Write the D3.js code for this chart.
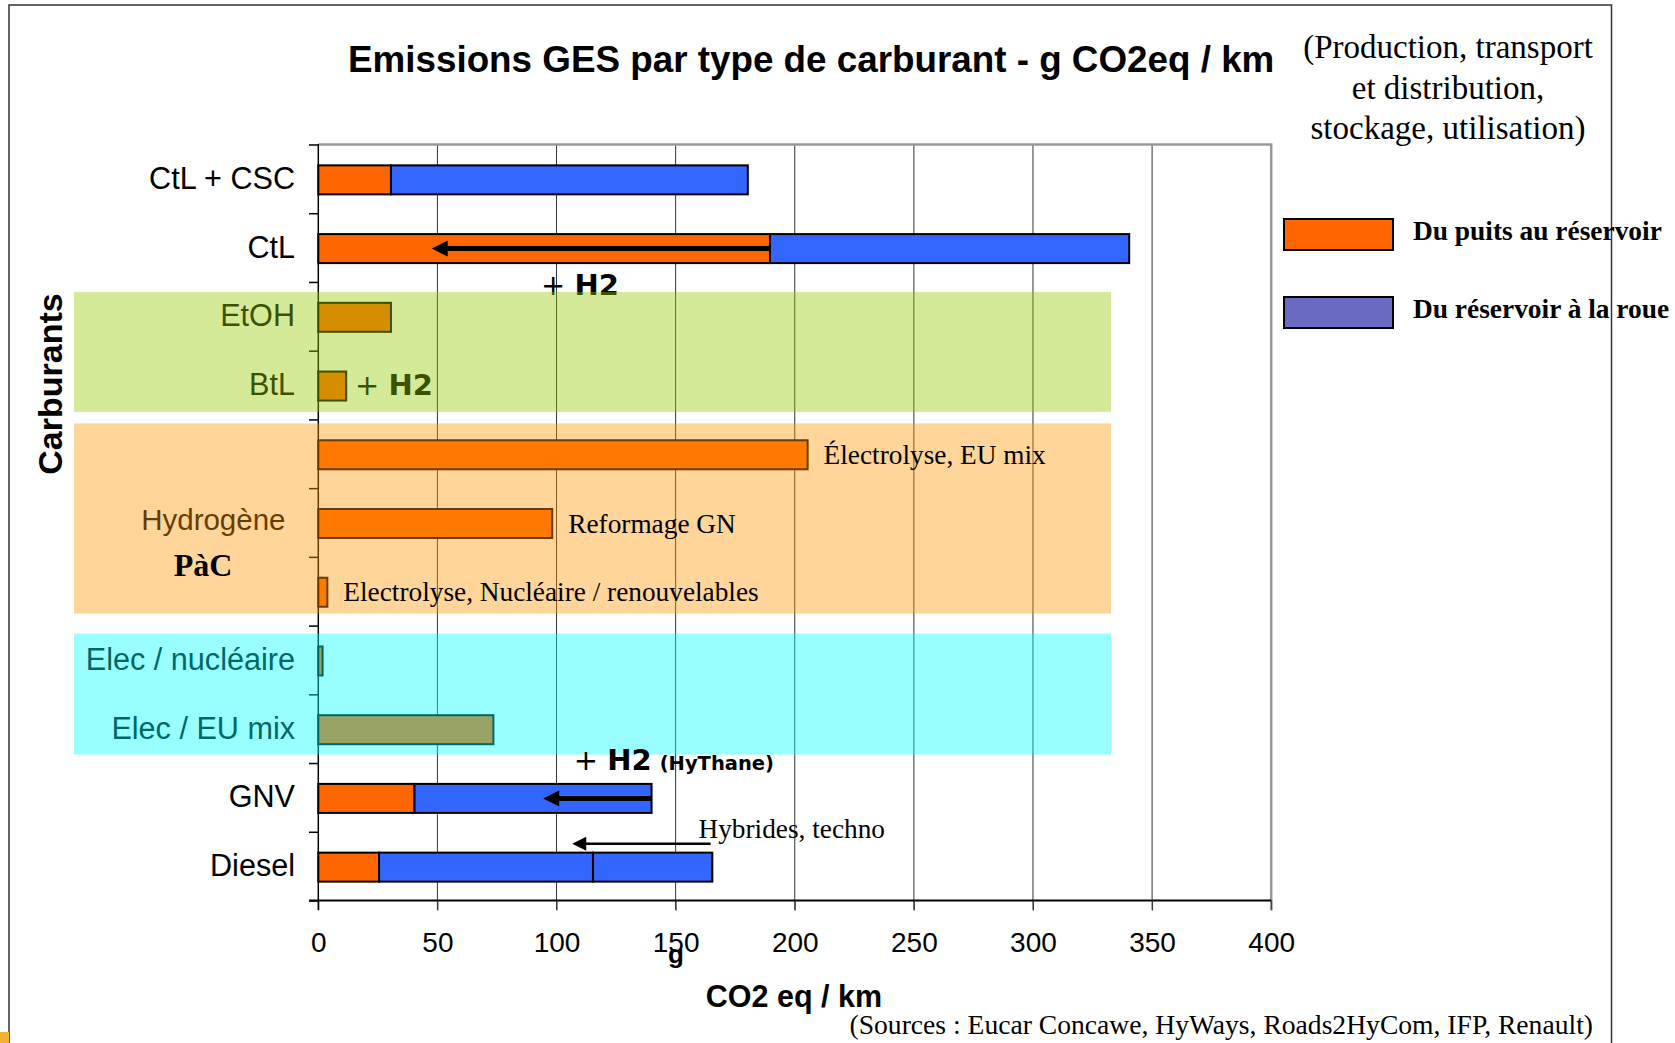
<!DOCTYPE html>
<meta charset="utf-8">
<style>
body { margin: 0; background: #fff; }
svg text { font-family: 'Liberation Sans', Arial, sans-serif; }
.serif { font-family: 'Liberation Serif', 'Times New Roman', serif !important; }
.heavy { font-family: 'DejaVu Sans', sans-serif !important; }
</style>
<body>
<div id="chart"></div>
<script src="https://d3js.org/d3.v7.min.js"></script>
<script>
// rows, top to bottom
var categories = ["CtL + CSC", "CtL", "EtOH", "BtL", "H2 Électrolyse EU mix", "H2 Reformage GN",
  "H2 Electrolyse nucléaire", "Elec / nucléaire", "Elec / EU mix", "GNV", "Diesel"];
var rowLabels = ["CtL + CSC", "CtL", "EtOH", "BtL", "", "", "", "Elec / nucléaire", "Elec / EU mix", "GNV", "Diesel"];

// g CO2eq / km
var puitsReservoir = [30.5, 189.6, 30.5, 11.7, 205.4, 98.2, 3.8, 1.8, 73.5, 40.4, 25.5];
var reservoirRoue = [149.8, 150.8, 0, 0, 0, 0, 0, 0, 0, 99.5, 89.8];
var reservoirRoueHybride = [0, 0, 0, 0, 0, 0, 0, 0, 0, 0, 50.1];

var xTicks = [0, 50, 100, 150, 200, 250, 300, 350, 400];

var barNotes = ["", "", "", "", "Électrolyse, EU mix", "Reformage GN",
  "Electrolyse, Nucléaire / renouvelables", "", "", "", ""];

// arrows: row, from value, to value
var arrowRows = ["CtL", "GNV", "Diesel"];
var arrowFrom = [189.6, 139.9, 164.7];
var arrowTo = [47.6, 94.4, 106.6];

var legendLabels = ["Du puits au réservoir", "Du réservoir à la roue"];
var subtitleLines = ["(Production, transport", "et distribution,", "stockage, utilisation)"];

var W = 1675, H = 1043;
var ORANGE = "#ff6600", BLUE = "#3366ff";

var svg = d3.select("#chart").append("svg")
  .attr("width", W).attr("height", H);

var x = d3.scaleLinear().domain([0, 400]).range([318.3, 1271.2]);
var y = d3.scaleBand().domain(categories).range([145, 901]);
var cy = function(c) { return y(c) + y.bandwidth() / 2; };
var barH = 29;

// outer frame
svg.append("path")
  .attr("d", "M9,1050 V5 H1611.5 V1050")
  .attr("fill", "none").attr("stroke", "#333").attr("stroke-width", 1.5);
svg.append("rect").attr("x", 0).attr("y", 1032).attr("width", 9).attr("height", 11).attr("fill", "#f2b134");

// grid
svg.append("g").selectAll("line")
  .data(xTicks.slice(1, -1))
  .enter().append("line")
  .attr("x1", d => x(d)).attr("x2", d => x(d))
  .attr("y1", 145).attr("y2", 910)
  .attr("stroke", "#333").attr("stroke-width", 1);

// top + right border of plot
svg.append("path")
  .attr("d", "M" + x(0) + ",144.5 H" + x(400) + " V910")
  .attr("fill", "none").attr("stroke", "#999").attr("stroke-width", 2.5);

// x axis
var xAxis = svg.append("g")
  .attr("transform", "translate(0,900.5)")
  .call(d3.axisBottom(x).tickValues(xTicks).tickSize(10).tickPadding(22));
xAxis.select(".domain").attr("d", "M309,0 H" + x(400)).attr("stroke", "#000").attr("stroke-width", 2);
xAxis.selectAll(".tick line").attr("stroke", "#333");
xAxis.selectAll("text").style("font-size", "28px").attr("fill", "#000");

// y axis line + ticks at row boundaries
svg.append("line")
  .attr("x1", x(0)).attr("x2", x(0)).attr("y1", 144).attr("y2", 910)
  .attr("stroke", "#000").attr("stroke-width", 1.5);
var bounds = categories.map(c => y(c)).concat([y.range()[1]]);
svg.append("g").selectAll("line")
  .data(bounds).enter().append("line")
  .attr("x1", 309).attr("x2", x(0))
  .attr("y1", d => d).attr("y2", d => d)
  .attr("stroke", "#000").attr("stroke-width", 1.5);

// bars
var bars = svg.append("g").attr("stroke", "#000").attr("stroke-width", 2);
categories.forEach(function(c, i) {
  var top = cy(c) - barH / 2 + 0.5;
  var segs = [
    [0, puitsReservoir[i], ORANGE],
    [puitsReservoir[i], puitsReservoir[i] + reservoirRoue[i], BLUE],
    [puitsReservoir[i] + reservoirRoue[i], puitsReservoir[i] + reservoirRoue[i] + reservoirRoueHybride[i], BLUE]
  ];
  segs.forEach(function(s) {
    if (s[1] - s[0] <= 0) return;
    bars.append("rect")
      .attr("x", x(s[0])).attr("y", top)
      .attr("width", x(s[1]) - x(s[0])).attr("height", barH)
      .attr("fill", s[2]);
  });
});

// row labels
svg.append("g").selectAll("text")
  .data(categories).enter().append("text")
  .attr("x", 295).attr("y", d => cy(d) + 9.5)
  .attr("text-anchor", "end")
  .style("font-size", "30.6px")
  .text((d, i) => rowLabels[i]);

svg.append("text")
  .attr("x", 285.5).attr("y", cy(categories[5]) + 7)
  .attr("text-anchor", "end").style("font-size", "29.5px")
  .text("Hydrogène");

// "+ H2" notes under the bands
function plusH2(px, py, extra) {
  var t = svg.append("text").attr("class", "heavy")
    .attr("x", px).attr("y", py).style("font-size", "29px");
  t.append("tspan").text("+ ");
  t.append("tspan").attr("font-weight", "bold").text("H2");
  if (extra) t.append("tspan").attr("font-weight", "bold").style("font-size", "19.5px").attr("dx", 8).text(extra);
}
plusH2(x(93.5), cy("CtL") + 47);
plusH2(x(15.4), cy("BtL") + 9.5);

// translucent bands over the rows
var bandRows = [["EtOH", "BtL", 9.5, -8, "#96cb00"],
  ["H2 Électrolyse EU mix", "H2 Electrolyse nucléaire", 3.5, -12.5, "#ff9600"],
  ["Elec / nucléaire", "Elec / EU mix", 7.5, -9, "#00ffff"]];
svg.append("g").selectAll("rect")
  .data(bandRows).enter().append("rect")
  .attr("x", 74).attr("width", 1111 - 74)
  .attr("y", d => y(d[0]) + d[2])
  .attr("height", d => y(d[1]) + y.bandwidth() + d[3] - y(d[0]) - d[2])
  .attr("fill", d => d[4]).attr("fill-opacity", 0.4);

// notes at bar ends
svg.append("g").selectAll("text")
  .data(categories).enter().append("text")
  .attr("class", "serif")
  .attr("x", (d, i) => x(puitsReservoir[i]) + 16)
  .attr("y", d => cy(d) + 9.5)
  .style("font-size", "27.3px")
  .text((d, i) => barNotes[i]);

svg.append("text").attr("class", "serif")
  .attr("x", 203).attr("y", 576).attr("text-anchor", "middle")
  .attr("font-weight", "bold").style("font-size", "32px").text("PàC");

plusH2(x(107.2), cy("GNV") - 28, "(HyThane)");

svg.append("text").attr("class", "serif")
  .attr("x", x(159.6)).attr("y", cy("Diesel") - 28.5)
  .style("font-size", "27.3px").text("Hybrides, techno");

// arrows
arrowRows.forEach(function(r, i) {
  var thin = r === "Diesel";
  var ay = thin ? cy(r) - 23 : cy(r) + 0.5;
  var x1 = x(arrowFrom[i]), x2 = x(arrowTo[i]);
  var hl = thin ? 14 : 16, hh = thin ? 7 : 8;
  svg.append("line")
    .attr("x1", x1).attr("x2", x2 + hl - 2).attr("y1", ay).attr("y2", ay)
    .attr("stroke", "#000").attr("stroke-width", thin ? 2.5 : 5);
  svg.append("path")
    .attr("d", "M" + x2 + "," + ay + " L" + (x2 + hl) + "," + (ay - hh) + " L" + (x2 + hl) + "," + (ay + hh) + "Z")
    .attr("fill", "#000");
});

// titles
svg.append("text")
  .attr("x", 348).attr("y", 72)
  .attr("font-weight", "bold").style("font-size", "36.8px")
  .text("Emissions GES par type de carburant - g CO2eq / km");

svg.append("g").selectAll("text")
  .data(subtitleLines).enter().append("text")
  .attr("class", "serif")
  .attr("x", 1448).attr("y", (d, i) => 58 + i * 40.5)
  .attr("text-anchor", "middle").style("font-size", "33px")
  .text(d => d);

svg.append("text")
  .attr("transform", "translate(62,384) rotate(-90)")
  .attr("text-anchor", "middle").attr("font-weight", "bold")
  .style("font-size", "34px").text("Carburants");

svg.append("text")
  .attr("x", 676).attr("y", 963).attr("text-anchor", "middle")
  .attr("font-weight", "bold").style("font-size", "26px").text("g");
svg.append("text")
  .attr("x", 794).attr("y", 1007).attr("text-anchor", "middle")
  .attr("font-weight", "bold").style("font-size", "30.5px").text("CO2 eq / km");
svg.append("text").attr("class", "serif")
  .attr("x", 1593).attr("y", 1034).attr("text-anchor", "end")
  .style("font-size", "27.6px")
  .text("(Sources : Eucar Concawe, HyWays, Roads2HyCom, IFP, Renault)");

// legend
var legend = svg.append("g").selectAll("g")
  .data(legendLabels).enter().append("g")
  .attr("transform", (d, i) => "translate(1284," + (219 + i * 78) + ")");
legend.append("rect")
  .attr("width", 109).attr("height", 31)
  .attr("fill", (d, i) => i === 0 ? ORANGE : "#6a6ac2")
  .attr("stroke", "#000").attr("stroke-width", 2);
legend.append("text").attr("class", "serif")
  .attr("x", 129).attr("y", 21)
  .attr("font-weight", "bold").style("font-size", "27.4px")
  .text(d => d);
</script>
</body>
